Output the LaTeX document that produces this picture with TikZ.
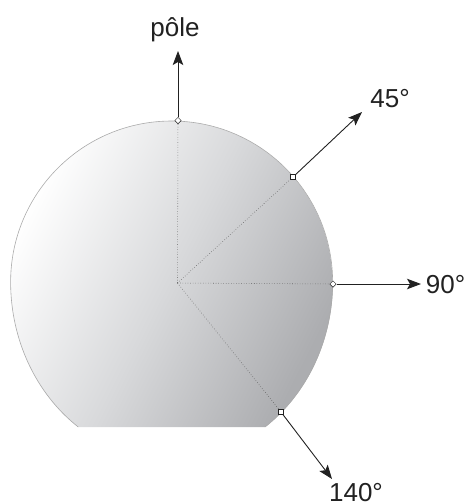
\documentclass[tikz,border=0pt]{standalone}
\usepackage{fontspec}
\setmainfont{Liberation Sans}
\usetikzlibrary{arrows.meta,shapes.geometric}
\definecolor{txt}{gray}{0.13}
\definecolor{waferlight}{RGB}{255,255,255}
\definecolor{wafermid}{RGB}{216,217,219}
\definecolor{waferdark}{RGB}{172,173,176}
\tikzset{
  arrowline/.style={draw=txt,line width=0.9pt,-{Stealth[length=14pt,width=10.5pt,inset=3pt]}},
  guide/.style={draw=black!65,line width=0.55pt,dotted},
  dia/.style={diamond,draw=txt,fill=white,line width=0.5pt,inner sep=0pt,minimum size=6.5pt},
  sq/.style={rectangle,draw=txt,fill=white,line width=0.5pt,inner sep=0pt,minimum size=5pt},
  lab/.style={text=txt,font=\fontsize{26pt}{28pt}\selectfont,inner sep=0pt,anchor=base},
  rim/.style={draw=black!33,line width=0.6pt}
}
\begin{document}
\begin{tikzpicture}[x=1pt,y=-1pt]
\useasboundingbox (0,0) rectangle (467,504);
\path[top color=waferlight,bottom color=waferdark,middle color=wafermid,shading angle=63]
  (333,282) arc[start angle=0,end angle=54.55,x radius=161,y radius=178]
  -- (78,427)
  arc[start angle=125.45,end angle=180,x radius=161,y radius=178]
  arc[start angle=-180,end angle=0,radius=161] -- cycle;
\draw[rim] (265,427) arc[start angle=54.55,end angle=0,x radius=161,y radius=178]
  arc[start angle=0,end angle=-180,radius=161]
  arc[start angle=180,end angle=125.45,x radius=161,y radius=178];
\coordinate (c) at (177.5,283);
\node[dia] (p) at (178,120.5) {};
\node[sq] (a) at (293,177) {};
\node[dia] (b) at (333,284) {};
\node[sq] (d) at (281,412) {};
\draw[guide] (c) -- (p);
\draw[guide] (c) -- (a);
\draw[guide] (c) -- (b);
\draw[guide] (c) -- (d);
\coordinate (pe) at (178,51);
\coordinate (ae) at (362,112);
\coordinate (be) at (421,284);
\coordinate (de) at (332,479);
\draw[arrowline] (p) -- (pe);
\draw[arrowline] (a) -- (ae);
\draw[arrowline] (b) -- (be);
\draw[arrowline] (d) -- (de);
\node[lab] (lp) at (175,36) {pôle};
\node[lab] (la) at (390,107) {45°};
\node[lab] (lb) at (445.5,293) {90°};
\node[lab] (ld) at (356,501) {140°};
\end{tikzpicture}
\end{document}
